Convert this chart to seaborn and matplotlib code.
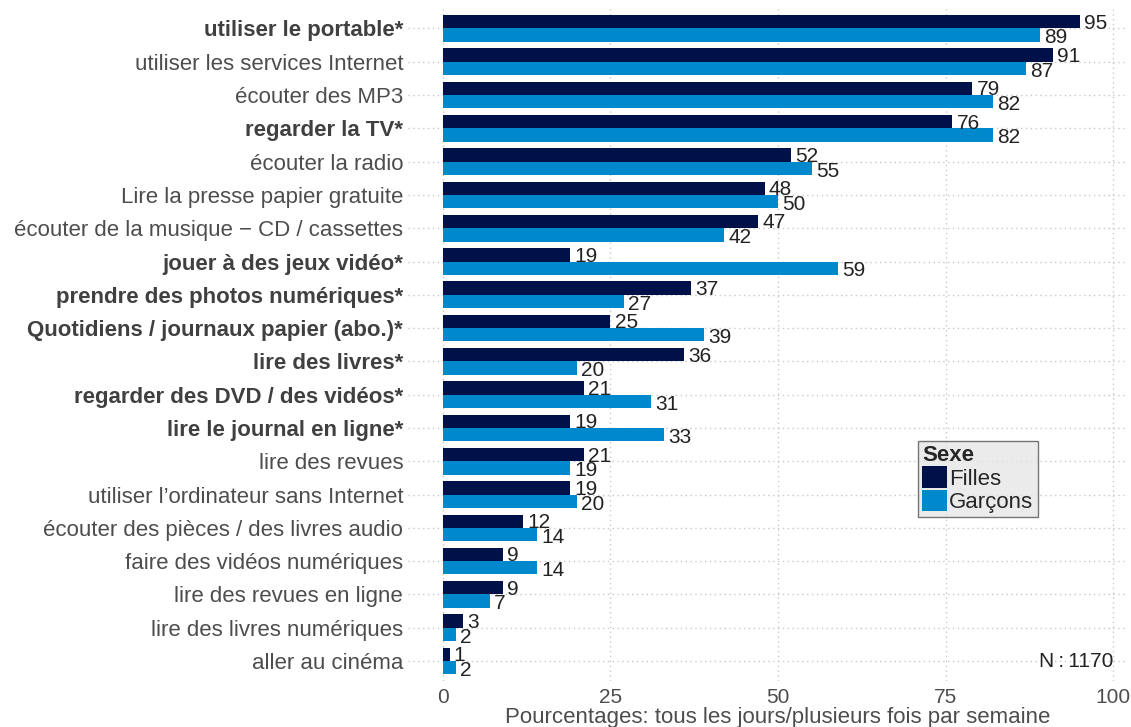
import matplotlib
matplotlib.use("Agg")
import matplotlib.pyplot as plt
import seaborn as sns
import pandas as pd

activites = [
    "utiliser le portable*",
    "utiliser les services Internet",
    "écouter des MP3",
    "regarder la TV*",
    "écouter la radio",
    "Lire la presse papier gratuite",
    "écouter de la musique − CD / cassettes",
    "jouer à des jeux vidéo*",
    "prendre des photos numériques*",
    "Quotidiens / journaux papier (abo.)*",
    "lire des livres*",
    "regarder des DVD / des vidéos*",
    "lire le journal en ligne*",
    "lire des revues",
    "utiliser l’ordinateur sans Internet",
    "écouter des pièces / des livres audio",
    "faire des vidéos numériques",
    "lire des revues en ligne",
    "lire des livres numériques",
    "aller au cinéma",
]
filles = [95, 91, 79, 76, 52, 48, 47, 19, 37, 25, 36, 21, 19, 21, 19, 12, 9, 9, 3, 1]
garcons = [89, 87, 82, 82, 55, 50, 42, 59, 27, 39, 20, 31, 33, 19, 20, 14, 14, 7, 2, 2]
sexes = ["Filles", "Garçons"]
couleurs = {"Filles": "#00114A", "Garçons": "#0088CC"}
x_ticks = [0, 25, 50, 75, 100]

df = pd.DataFrame({
    "activite": activites * 2,
    "sexe": ["Filles"] * len(activites) + ["Garçons"] * len(activites),
    "pct": filles + garcons,
})

sns.set_theme(style="white")
plt.rcParams["font.family"] = ["Liberation Sans", "DejaVu Sans"]

W, H = 1131, 727
fig = plt.figure(figsize=(W / 100, H / 100), dpi=100)
left, right, top, bottom = 408, 1128, 8.5, 681
ax = fig.add_axes([left / W, (H - bottom) / H, (right - left) / W, (bottom - top) / H])

sns.barplot(data=df, y="activite", x="pct", hue="sexe", order=activites,
            hue_order=sexes, palette=couleurs, orient="h", width=0.8,
            saturation=1, linewidth=0, ax=ax, legend=True)

ax.set_xlim(-5.2, 102.2)
ax.set_ylim(len(activites) - 0.4, -0.6)
ax.set_xticks(x_ticks)
ax.set_xticklabels([str(t) for t in x_ticks])
for s in ax.spines.values():
    s.set_visible(False)

ax.set_axisbelow(True)
ax.grid(True, axis="both", color="#c8c8c8", linewidth=1.0, linestyle=(0, (1, 2.5)))

ax.tick_params(axis="y", length=0, pad=3.5, labelsize=16, labelcolor="#4d4d4d")
ax.tick_params(axis="x", length=0, pad=5, labelsize=15, labelcolor="#4d4d4d")
for lab in ax.get_yticklabels():
    if lab.get_text().endswith("*"):
        lab.set_fontweight("bold")
        lab.set_color("#404040")

ax.set_ylabel("")
ax.set_xlabel("Pourcentages: tous les jours/plusieurs fois par semaine",
              fontsize=16, color="#4d4d4d", va="center")
ax.xaxis.set_label_coords((778 - left) / (right - left), (bottom - 718) / (bottom - top))

for cont, off in zip(ax.containers, [-1, -2]):
    for bar in cont:
        w = bar.get_width()
        yc = bar.get_y() + bar.get_height() / 2
        ax.annotate(f"{w:.0f}", (w, yc), xytext=(3, off), textcoords="offset points",
                    ha="left", va="center", fontsize=15, color="#222222",
                    annotation_clip=False)

ax.text(100, len(activites) - 1, "N\u2009:\u20091170", ha="right", va="center",
        fontsize=15, color="#222222")

handles, labels = ax.get_legend_handles_labels()
ax.get_legend().remove()
leg = fig.legend(handles, labels, title="Sexe", loc="upper left",
                 bbox_to_anchor=(918 / W, (H - 441) / H), frameon=True,
                 fontsize=16, title_fontproperties={"weight": "bold", "size": 16},
                 handlelength=1.1, handleheight=1.1, handletextpad=0.1,
                 labelspacing=0.0, borderpad=0.2, borderaxespad=0,
                 alignment="left", fancybox=False)
leg.get_frame().set_facecolor("#e6e6e6")
leg.get_frame().set_edgecolor("#555555")
leg.get_frame().set_linewidth(1.0)

fig.savefig("out.png", dpi=100)
